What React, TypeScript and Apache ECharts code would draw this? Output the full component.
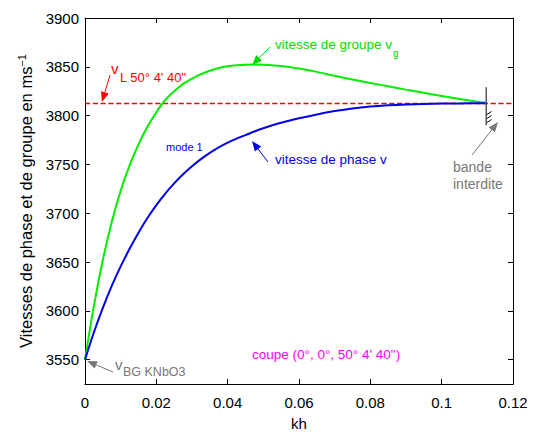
import React, { useEffect, useRef } from "react";
import * as echarts from "echarts";

const kh = [0, 0.0025, 0.005, 0.0075, 0.01, 0.0125, 0.015, 0.0175, 0.02, 0.0225, 0.025, 0.0275, 0.03, 0.0325, 0.035, 0.0375, 0.04, 0.0425, 0.045, 0.0475, 0.05, 0.055, 0.06, 0.065, 0.07, 0.075, 0.08, 0.085, 0.09, 0.095, 0.1, 0.105, 0.11, 0.1125];
const groupV = [3550, 3605, 3652, 3691, 3723, 3749, 3770.5, 3788.5, 3803.5, 3816, 3825, 3832.5, 3838, 3842.5, 3846, 3848.7, 3850.5, 3851.5, 3852.1, 3852.3, 3852.1, 3850.8, 3848.2, 3844.8, 3840.8, 3837, 3833.5, 3830, 3826.6, 3823.3, 3820.1, 3817, 3814.3, 3813.2];
const phaseV = [3550, 3578, 3603, 3625.5, 3645.5, 3663.5, 3680, 3695, 3708.3, 3720.1, 3730.6, 3739.9, 3748.1, 3755.4, 3761.8, 3767.4, 3772.3, 3776.4, 3780, 3783.7, 3787, 3792.6, 3797.2, 3801.2, 3804.6, 3807.3, 3809.2, 3810.5, 3811.4, 3812, 3812.3, 3812.5, 3812.6, 3812.6];
const vL = 3812.4;
const vLLine = [0, 0.12];
const khRange = [0, 0.12];
const vRange = [3525, 3900];
const bandKh = 0.1125;
const bandV = [3790, 3829];

const FONT = "'Liberation Sans', Arial, Helvetica, sans-serif";

function arrow(x1: number, y1: number, x2: number, y2: number, color: string) {
  const dx = x2 - x1, dy = y2 - y1;
  const len = Math.sqrt(dx * dx + dy * dy);
  const ux = dx / len, uy = dy / len;
  const hl = 10, hw = 4;
  const bx = x2 - ux * hl, by = y2 - uy * hl;
  return [
    { type: "line", shape: { x1, y1, x2: bx, y2: by }, style: { stroke: color, lineWidth: 1 } },
    {
      type: "polygon",
      shape: { points: [[x2, y2], [bx - uy * hw, by + ux * hw], [bx + uy * hw, by - ux * hw]] },
      style: { fill: color },
    },
  ];
}

function txt(x: number, y: number, text: string, color: string, size: number, align = "left") {
  return {
    type: "text",
    x,
    y,
    style: { text, fill: color, font: `${size}px ${FONT}`, align, verticalAlign: "middle" },
  };
}

export default function App() {
  const ref = useRef<HTMLDivElement>(null);
  useEffect(() => {
    document.body.style.margin = "0";
    const chart = echarts.init(ref.current!, null, { renderer: "svg" });
    const axisCommon = {
      axisLine: { show: true, onZero: false, lineStyle: { color: "#000", width: 1 } },
      axisTick: { show: true, inside: true, length: 5, lineStyle: { color: "#000" } },
      splitLine: { show: false },
    };
    const option: any = {
      animation: false,
      backgroundColor: "#fff",
      grid: { left: 85, right: 21, top: 18, bottom: 51, containLabel: false },
      xAxis: [
        {
          type: "value",
          min: khRange[0],
          max: khRange[1],
          interval: 0.02,
          ...axisCommon,
          axisLabel: { color: "#000", fontSize: 15, fontFamily: FONT, margin: 11 },
          name: "kh",
          nameLocation: "middle",
          nameGap: 32,
          nameTextStyle: { color: "#000", fontSize: 15, fontFamily: FONT },
        },
        {
          type: "value",
          position: "top",
          min: khRange[0],
          max: khRange[1],
          interval: 0.02,
          ...axisCommon,
          axisLabel: { show: false },
        },
      ],
      yAxis: [
        {
          type: "value",
          min: vRange[0],
          max: vRange[1],
          splitNumber: 8,
          ...axisCommon,
          axisLabel: {
            color: "#000",
            fontSize: 15,
            fontFamily: FONT,
            margin: 6,
            showMinLabel: false,
            formatter: (v: number) => String(v),
          },
          name: "{a|Vitesses de phase et de groupe en ms}{s|−1}",
          nameLocation: "middle",
          nameGap: 42,
          nameTextStyle: {
            color: "#000",
            fontFamily: FONT,
            rich: {
              a: { fontSize: 16.5, fontFamily: FONT, color: "#000", lineHeight: 20 },
              s: { fontSize: 11, fontFamily: FONT, color: "#000", verticalAlign: "top", lineHeight: 12 },
            },
          },
        },
        {
          type: "value",
          position: "right",
          min: vRange[0],
          max: vRange[1],
          splitNumber: 8,
          ...axisCommon,
          axisLabel: { show: false },
        },
      ],
      series: [
        {
          type: "line",
          name: "vL",
          data: vLLine.map((k) => [k, vL]),
          showSymbol: false,
          itemStyle: { color: "rgb(255,0,0)" },
          lineStyle: { color: "rgb(255,0,0)", width: 1.3, type: "dashed", opacity: 1 },
          z: 2,
        },
        {
          type: "line",
          data: kh.map((k, i) => [k, groupV[i]]),
          showSymbol: false,
          smooth: 0.3,
          color: "#00ee00",
          lineStyle: { color: "#00ee00", width: 2 },
          z: 3,
        },
        {
          type: "line",
          data: kh.map((k, i) => [k, phaseV[i]]),
          showSymbol: false,
          smooth: 0.3,
          color: "#0000ee",
          lineStyle: { color: "#0000ee", width: 2 },
          z: 4,
        },
        {
          type: "line",
          data: [[bandKh, bandV[0]], [bandKh, bandV[1]]],
          showSymbol: false,
          color: "#555",
          lineStyle: { color: "#555", width: 1.5 },
          z: 5,
        },
      ],
      graphic: [
        txt(111, 68, "v", "#ff0000", 15),
        txt(120, 77, "L 50° 4' 40\"", "#ff0000", 13),
        ...arrow(110, 75, 102, 102, "#ff0000"),
        txt(275, 44, "vitesse de groupe v", "#00dd00", 13.5),
        txt(393, 53, "g", "#00dd00", 10),
        ...arrow(270, 47, 252, 65, "#00dd00"),
        txt(275, 159, "vitesse de phase v", "#0000ee", 13.5),
        ...arrow(268, 162, 252, 141, "#0000ee"),
        txt(166, 147, "mode 1", "#0000ee", 11),
        txt(453, 167, "bande", "#777", 14),
        txt(453, 184, "interdite", "#777", 14),
        ...arrow(472, 155, 498, 122, "#777"),
        { type: "line", shape: { x1: 487, y1: 114.5, x2: 491.5, y2: 111.5 }, style: { stroke: "#000", lineWidth: 1 } },
        { type: "line", shape: { x1: 487, y1: 118.5, x2: 491.5, y2: 115.5 }, style: { stroke: "#000", lineWidth: 1 } },
        { type: "line", shape: { x1: 487, y1: 122.5, x2: 491.5, y2: 119.5 }, style: { stroke: "#000", lineWidth: 1 } },
        txt(115, 364, "v", "#777", 15),
        txt(123, 372, "BG KNbO3", "#777", 12.5),
        ...arrow(113, 372, 87, 361, "#777"),
        txt(252, 354, "coupe (0°, 0°, 50° 4' 40\")", "#ff00ff", 13.5),
      ],
    };
    chart.setOption(option);
    return () => chart.dispose();
  }, []);
  return <div ref={ref} style={{ width: 534, height: 436 }} />;
}
